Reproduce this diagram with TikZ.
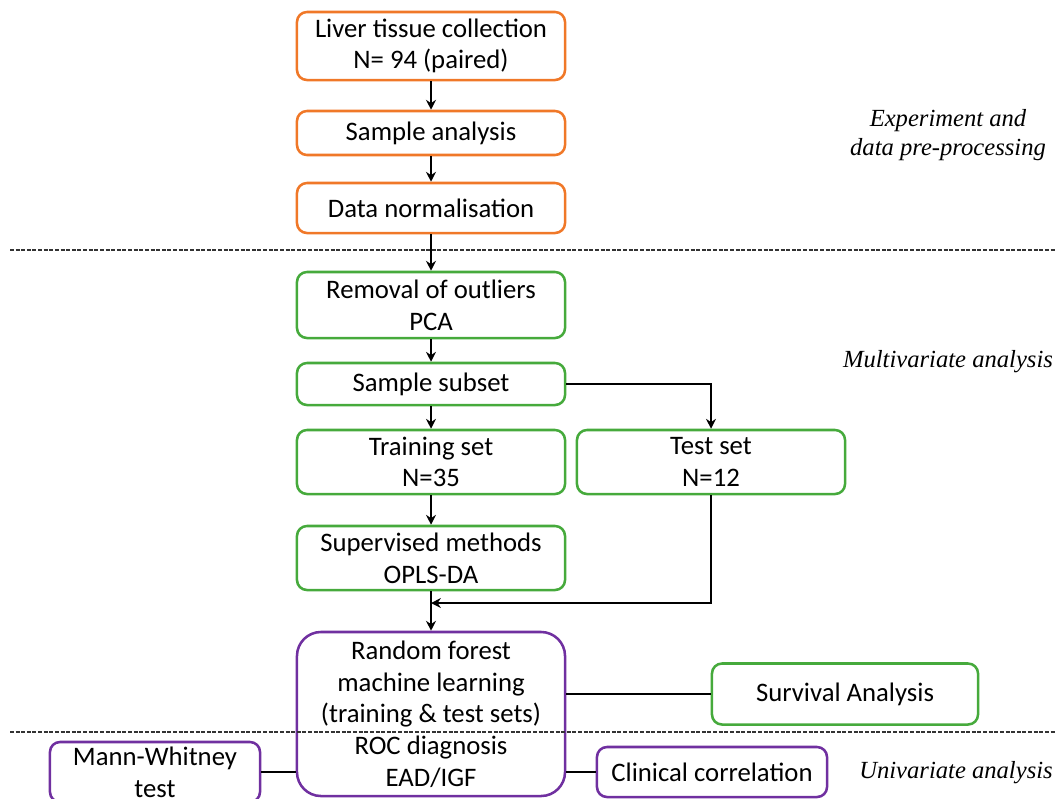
\documentclass[tikz,border=0pt]{standalone}
\usepackage{fontspec}
\setmainfont{Carlito}
\newfontfamily\labelfont{Liberation Serif}
\usetikzlibrary{arrows.meta}

\definecolor{stageorange}{RGB}{240,120,40}
\definecolor{stagegreen}{RGB}{70,170,60}
\definecolor{stagepurple}{RGB}{112,48,160}

\tikzset{
  stepbox/.style={draw, line width=1.8pt, rounded corners=0.25cm, align=center,
    inner sep=0pt, minimum width=6.7cm, font=\fontsize{19}{22.5}\selectfont},
  orangebox/.style={stepbox, draw=stageorange},
  greenbox/.style={stepbox, draw=stagegreen},
  purplebox/.style={stepbox, draw=stagepurple},
  link/.style={line width=1.9pt, draw=black},
  arr/.style={link, -{Stealth[length=7pt,width=7pt]}},
  divider/.style={line width=1pt, draw=black!80, dash pattern=on 2.8pt off 1.2pt},
  stagelabel/.style={align=center, font=\labelfont\itshape\fontsize{17.5}{21}\selectfont}
}

\begin{document}
\begin{tikzpicture}[x=0.025cm, y=-0.025cm]
\useasboundingbox (0,0) rectangle (1062,798);
\clip (0,0) rectangle (1062,798);

% experiment and data pre-processing
\node[orangebox, minimum height=1.7cm] (liver) at (431,46) {Liver tissue collection\\N= 94 (paired)};
\node[orangebox, minimum height=1.1cm] (sample) at (431,133) {Sample analysis};
\node[orangebox, minimum height=1.25cm] (norm) at (431,208) {Data normalisation};

% multivariate analysis
\node[greenbox, minimum height=1.65cm] (outliers) at (431,305) {Removal of outliers\\PCA};
\node[greenbox, minimum height=1.05cm] (subset) at (431,384) {Sample subset};
\node[greenbox, minimum height=1.6cm] (training) at (431,462) {Training set\\N=35};
\node[greenbox, minimum height=1.6cm] (test) at (711,462) {Test set\\N=12};
\node[greenbox, minimum height=1.6cm] (supervised) at (431,558) {Supervised methods\\OPLS-DA};
\node[purplebox, rounded corners=0.6cm, minimum height=4.1cm] (forest) at (431,714)
  {Random forest\\machine learning\\(training \& test sets)\\ROC diagnosis\\EAD/IGF};
\node[greenbox, minimum width=6.65cm, minimum height=1.525cm] (survival) at (845,694) {Survival Analysis};

% univariate analysis
\node[purplebox, minimum width=5.25cm, minimum height=1.5cm] (mann) at (155,772) {Mann-Whitney\\test};
\node[purplebox, minimum width=5.75cm, minimum height=1.25cm] (clinical) at (712,772) {Clinical correlation};

% section labels
\node[stagelabel] (lblexp) at (948,135) {Experiment and\\data pre-processing};
\node[stagelabel] (lblmulti) at (948,362) {Multivariate analysis};
\node[stagelabel] (lbluni) at (956,773) {Univariate analysis};

% dividers
\coordinate (divAl) at (10,250);
\coordinate (divAr) at (1055,250);
\coordinate (divBl) at (10,732);
\coordinate (divBr) at (1055,732);
\draw[divider] (divAl) -- (divAr);
\draw[divider] (divBl) -- (divBr);

% connectors
\coordinate (join) at (431,603);
\draw[arr] (liver) -- (sample);
\draw[arr] (sample) -- (norm);
\draw[arr] (norm) -- (outliers);
\draw[arr] (outliers) -- (subset);
\draw[arr] (subset) -- (training);
\draw[arr] (subset.east) -| (test.north);
\draw[arr] (training) -- (supervised);
\draw[arr] (supervised) -- (forest);
\draw[arr] (test.south) |- (join);
\draw[link] (forest.east |- survival.west) -- (survival.west);
\draw[link] (mann.east) -- (mann.east -| forest.west);
\draw[link] (forest.east |- clinical.west) -- (clinical.west);
\end{tikzpicture}
\end{document}
